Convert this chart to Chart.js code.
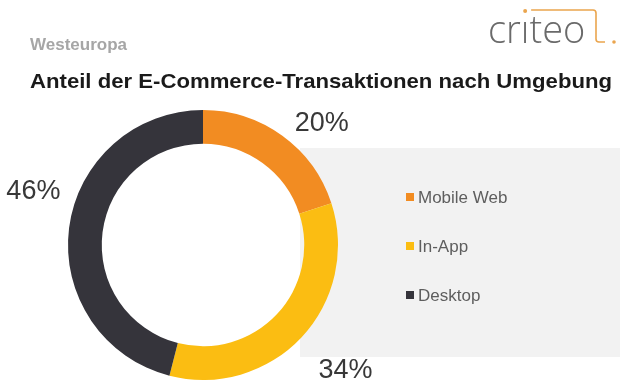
<!DOCTYPE html>
<html>
<head>
<meta charset="utf-8">
<script src="https://cdn.jsdelivr.net/npm/chart.js@4/dist/chart.umd.min.js"></script>
<style>
  html, body { margin: 0; padding: 0; background: #fff; }
  #wrap { position: relative; width: 620px; height: 385px; }
</style>
</head>
<body>
<div id="wrap"><canvas id="donut" width="620" height="385"></canvas></div>
<script>
// === Daten ===
const labels = ["Mobile Web", "In-App", "Desktop"];
const shares = [20, 34, 46];
const colors = ["#f28c22", "#fbbd12", "#35343b"];

const FONT = "'Liberation Sans', Arial, sans-serif";

// Hintergrund, Titel, Logo, Legende und Prozentwerte
const decorPlugin = {
  id: "decor",
  beforeDraw(chart) {
    const ctx = chart.ctx;
    ctx.save();
    ctx.fillStyle = "#fff";
    ctx.fillRect(0, 0, chart.width, chart.height);
    // graue Fläche hinter der Legende
    ctx.fillStyle = "#f2f2f2";
    ctx.fillRect(300, 148, chart.width - 300, 209);
    ctx.restore();
  },
  afterDraw(chart) {
    const ctx = chart.ctx;
    ctx.save();

    // Titel
    ctx.textBaseline = "alphabetic";
    ctx.textAlign = "left";
    ctx.fillStyle = "#a6a6a6";
    ctx.font = "bold 17px " + FONT;
    ctx.fillText("Westeuropa", 30, 50);

    const title = "Anteil der E-Commerce-Transaktionen nach Umgebung";
    ctx.fillStyle = "#1a1a1a";
    ctx.font = "bold 21px " + FONT;
    const w = ctx.measureText(title).width;
    ctx.save();
    ctx.translate(30, 88);
    ctx.scale(582 / w, 1);
    ctx.fillText(title, 0, 0);
    ctx.restore();

    // Logo (Punkt auf dem i in Orange)
    ctx.fillStyle = "#6a6a6a";
    ctx.font = "300 38px 'Open Sans', sans-serif";
    ctx.fillText("cr\u0131teo", 488, 43);
    const iX = 488 + ctx.measureText("cr").width + ctx.measureText("\u0131").width / 2;
    ctx.strokeStyle = "#eaa54e";
    ctx.fillStyle = "#eaa54e";
    ctx.lineWidth = 1.6;
    ctx.beginPath();
    ctx.arc(iX, 11, 2, 0, Math.PI * 2);
    ctx.fill();
    ctx.beginPath();
    ctx.moveTo(iX + 6, 10);
    ctx.lineTo(593, 10);
    ctx.quadraticCurveTo(596, 10, 596, 13);
    ctx.lineTo(596, 39);
    ctx.quadraticCurveTo(596, 42, 599, 42);
    ctx.lineTo(605, 42);
    ctx.stroke();
    ctx.beginPath();
    ctx.arc(614, 42, 1.8, 0, Math.PI * 2);
    ctx.fill();

    // Legende
    ctx.font = "17px " + FONT;
    ctx.textBaseline = "middle";
    labels.forEach((lab, i) => {
      const y = 198 + i * 49;
      ctx.fillStyle = colors[i];
      ctx.fillRect(406, y - 5, 8, 8);
      ctx.fillStyle = "#5e5e5e";
      ctx.fillText(lab, 418, y);
    });

    // Prozentwerte um den Ring
    const nudge = [[16, 20], [15, 6], [4, -32]];
    const meta = chart.getDatasetMeta(0);
    ctx.font = "27px " + FONT;
    ctx.fillStyle = "#383838";
    ctx.textAlign = "center";
    ctx.textBaseline = "middle";
    meta.data.forEach((arc, i) => {
      const p = arc.getProps(["x", "y", "startAngle", "endAngle", "outerRadius"], true);
      const mid = (p.startAngle + p.endAngle) / 2;
      const r = p.outerRadius + 40;
      const x = p.x + Math.cos(mid) * r + nudge[i][0];
      const y = p.y + Math.sin(mid) * r + nudge[i][1];
      ctx.fillText(shares[i] + "%", x, y);
    });
    ctx.restore();
  },
};

new Chart(document.getElementById("donut"), {
  type: "doughnut",
  data: {
    labels,
    datasets: [{
      data: shares,
      backgroundColor: colors,
      borderWidth: 0,
    }],
  },
  options: {
    responsive: false,
    animation: false,
    cutout: "75%",
    layout: { padding: { left: 68, right: 282, top: 110, bottom: 5 } },
    plugins: {
      legend: { display: false },
      tooltip: { enabled: false },
    },
  },
  plugins: [decorPlugin],
});
</script>
</body>
</html>
